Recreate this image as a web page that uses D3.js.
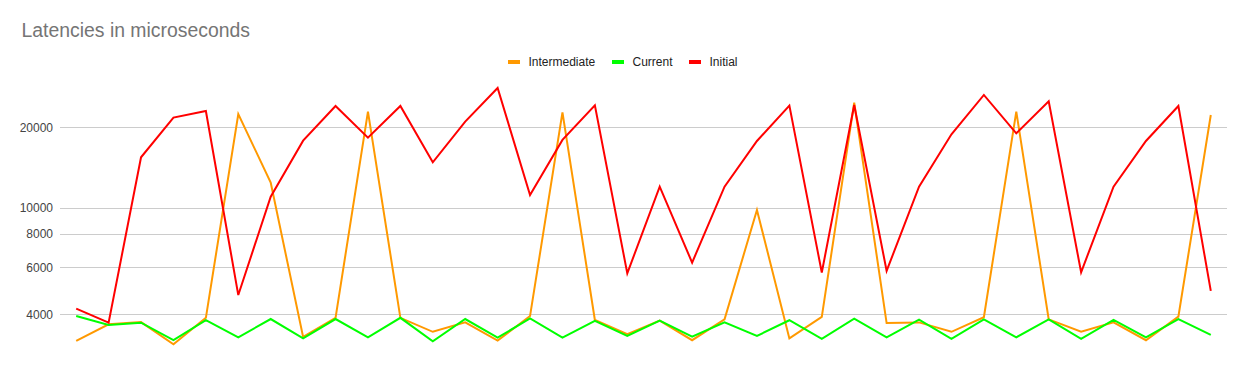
<!DOCTYPE html>
<html>
<head>
<meta charset="utf-8">
<script src="https://cdn.jsdelivr.net/npm/d3@7"></script>
<style>
  html, body { margin: 0; padding: 0; background: #fff; }
  svg { display: block; font-family: "Liberation Sans", Arial, sans-serif; }
</style>
</head>
<body>
<svg id="chart" width="1246" height="371"></svg>
<script>
// Run index (36 consecutive measurements)
const runs = d3.range(36);

// Latency in microseconds per run
const intermediate = [3180, 3670, 3740, 3090, 3880, 22430, 12420, 3290, 3880, 22890, 3880, 3440,
                      3730, 3190, 3940, 22750, 3810, 3370, 3790, 3200, 3830, 9820, 3250, 3910,
                      24720, 3710, 3730, 3440, 3900, 22890, 3830, 3440, 3730, 3200, 3920, 22240];
const current =      [3940, 3650, 3720, 3200, 3800, 3280, 3840, 3250, 3840, 3280, 3880, 3170,
                      3840, 3270, 3860, 3270, 3780, 3320, 3790, 3300, 3730, 3320, 3800, 3240,
                      3850, 3280, 3820, 3240, 3830, 3280, 3830, 3240, 3810, 3280, 3840, 3350];
const initial =      [4200, 3720, 15450, 21740, 23020, 4720, 11010, 17830, 24030, 18300, 24030, 14800,
                      21000, 28060, 11170, 17940, 24170, 5690, 12000, 6240, 12000, 17780, 24100, 5730,
                      24240, 5810, 12000, 18830, 26420, 18990, 25020, 5740, 12000, 17780, 24030, 4890];

const yTicks = [4000, 6000, 8000, 10000, 20000];

const seriesNames = ["Intermediate", "Current", "Initial"];
const seriesColors = ["#ff9900", "#00ff00", "#ff0000"];
const seriesValues = [intermediate, current, initial];

const svg = d3.select("#chart");

const plot = { left: 60, right: 1227, top: 80.2, bottom: 347.7 };

const x = d3.scaleBand().domain(runs).range([plot.left, plot.right]);
const y = d3.scaleLog().domain([3000, 30000]).range([plot.bottom, plot.top]);

// Title
svg.append("text")
  .attr("x", 21.5).attr("y", 37)
  .attr("font-size", 19.4)
  .attr("fill", "#757575")
  .text("Latencies in microseconds");

// Gridlines
svg.append("g").selectAll("line")
  .data(yTicks).join("line")
  .attr("x1", plot.left).attr("x2", plot.right)
  .attr("y1", d => Math.round(y(d)) + 0.5)
  .attr("y2", d => Math.round(y(d)) + 0.5)
  .attr("stroke", "#cccccc").attr("stroke-width", 1);

// Y axis labels
const yAxis = d3.axisLeft(y).tickValues(yTicks).tickFormat(d3.format("d")).tickSize(0).tickPadding(7);
const yg = svg.append("g").attr("transform", `translate(${plot.left},0)`).call(yAxis);
yg.select(".domain").remove();
yg.selectAll("text")
  .attr("font-family", "'Liberation Sans', Arial, sans-serif")
  .attr("font-size", 12)
  .attr("fill", "#444444");

// Series lines
const line = d3.line()
  .x((d, i) => x(i) + x.bandwidth() / 2)
  .y(d => y(d));

svg.append("g").selectAll("path")
  .data(seriesValues).join("path")
  .attr("d", d => line(d))
  .attr("fill", "none")
  .attr("stroke", (d, i) => seriesColors[i])
  .attr("stroke-width", 2)
  .attr("stroke-linejoin", "miter");

// Legend
const legendItems = [
  { name: seriesNames[0], color: seriesColors[0], x: 508 },
  { name: seriesNames[1], color: seriesColors[1], x: 612 },
  { name: seriesNames[2], color: seriesColors[2], x: 689 }
];
const lg = svg.append("g");
legendItems.forEach(it => {
  lg.append("rect")
    .attr("x", it.x).attr("y", 60)
    .attr("width", 12).attr("height", 4)
    .attr("fill", it.color);
  lg.append("text")
    .attr("x", it.x + 20.5).attr("y", 66)
    .attr("font-size", 12)
    .attr("fill", "#222222")
    .text(it.name);
});
</script>
</body>
</html>
